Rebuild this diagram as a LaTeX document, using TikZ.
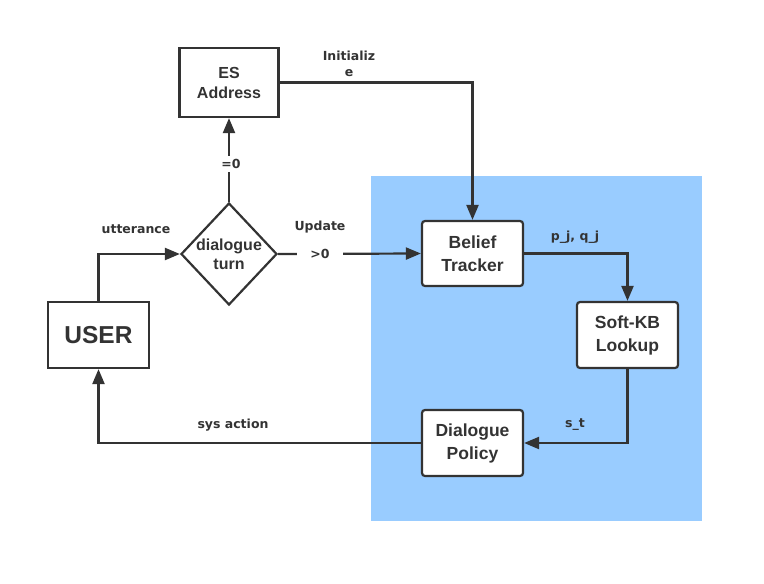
\documentclass[tikz,border=0pt]{standalone}
\usepackage{fontspec}
\setmainfont{Liberation Sans}
\newfontfamily\lblfont{DejaVu Sans}
\usetikzlibrary{arrows.meta,shapes.geometric}
\definecolor{ln}{HTML}{333333}
\definecolor{bluebg}{HTML}{99CCFF}
\begin{document}
\begin{tikzpicture}[x=1pt,y=-1pt,
  box/.style={draw=ln, line width=2.2pt, fill=white, minimum width=101pt, minimum height=66pt, align=center, font=\bfseries\fontsize{17.5}{23}\selectfont, text=ln, inner sep=0pt},
  rbox/.style={box, rounded corners=3pt},
  conn/.style={draw=ln, line width=2.2pt, -{Triangle[length=15pt,width=12pt]}},
  lbl/.style={font=\lblfont\bfseries\fontsize{12.5}{16}\selectfont, text=ln, inner sep=1pt, align=center}]
\useasboundingbox (0,0) rectangle (764,584);
\fill[bluebg] (371,176) rectangle (702,521);
\node[box, minimum width=99pt, minimum height=69pt, font=\bfseries\fontsize{16}{20}\selectfont] (es) at (229,82.5) {ES\\Address};
\node[draw=ln, line width=2.2pt, diamond, minimum width=96pt, minimum height=102pt, inner sep=0pt] (dt) at (229,254) {};
\node[font=\bfseries\fontsize{16}{19}\selectfont, text=ln, align=center, inner sep=0pt] (dtt) at (dt.center) {dialogue\\turn};
\node[box, font=\bfseries\fontsize{24.5}{28}\selectfont] (user) at (98.5,335) {USER};
\node[rbox, minimum height=65pt] (bt) at (472.5,253.5) {Belief\\Tracker};
\node[rbox] (sk) at (627.5,335) {Soft-KB\\Lookup};
\node[rbox] (dp) at (472.5,443) {Dialogue\\Policy};
\draw[conn] (user.north) |- (dt.west);
\node[lbl] (l1) at (136,229) {utterance};
\draw[conn] (dt.north) -- (es.south);
\node[lbl, fill=white, inner ysep=3pt] (l2) at (231,164) {=0};
\draw[conn] (es.east) -| (bt.north);
\node[lbl] (l3) at (349,64) {Initializ\\e};
\draw[conn] (dt.east) -- (bt.west);
\node[lbl] (l4) at (320,227) {Update};
\node[lbl, fill=white, inner xsep=13pt, inner ysep=3pt] (l5) at (320,253.5) {>0};
\draw[conn] (bt.east) -| (sk.north);
\node[lbl] (l6) at (575,237) {p\_j, q\_j};
\draw[conn] (sk.south) |- (dp.east);
\node[lbl] (l7) at (575,425) {s\_t};
\draw[conn] (dp.west) -| (user.south);
\node[lbl] (l8) at (233,425) {sys action};
\end{tikzpicture}
\end{document}
